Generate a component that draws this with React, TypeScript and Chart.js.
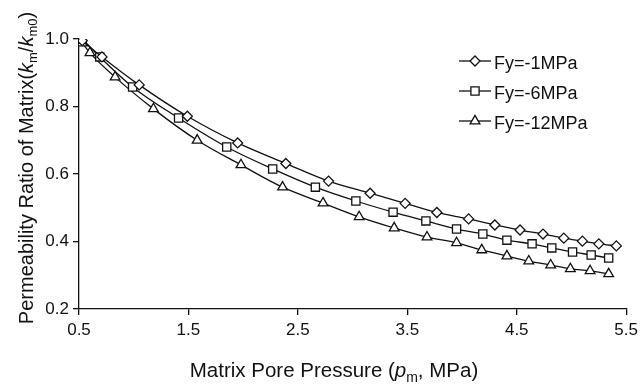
import React, { useEffect, useRef } from "react";
import { Chart, registerables } from "chart.js";

Chart.register(...registerables);

// ---- data ----
const seriesLabels = ["Fy=-1MPa", "Fy=-6MPa", "Fy=-12MPa"];

const diamondX = [0.53, 0.71, 1.05, 1.49, 1.95, 2.39, 2.78, 3.16, 3.48, 3.77, 4.06, 4.3, 4.53, 4.74, 4.93, 5.1, 5.25, 5.41];
const diamondY = [0.995, 0.947, 0.864, 0.771, 0.692, 0.631, 0.579, 0.543, 0.513, 0.486, 0.467, 0.449, 0.434, 0.422, 0.41, 0.401, 0.393, 0.387];

const squareX = [0.53, 0.69, 0.99, 1.41, 1.85, 2.27, 2.66, 3.03, 3.37, 3.67, 3.95, 4.19, 4.41, 4.64, 4.82, 5.01, 5.18, 5.34];
const squareY = [1.0, 0.947, 0.858, 0.766, 0.68, 0.615, 0.561, 0.52, 0.487, 0.461, 0.437, 0.422, 0.404, 0.393, 0.381, 0.369, 0.36, 0.351];

const triX = [0.53, 0.6, 0.83, 1.18, 1.58, 1.98, 2.36, 2.73, 3.06, 3.38, 3.68, 3.95, 4.18, 4.41, 4.61, 4.81, 4.99, 5.17, 5.34];
const triY = [0.988, 0.959, 0.887, 0.793, 0.7, 0.627, 0.561, 0.514, 0.473, 0.44, 0.413, 0.396, 0.375, 0.357, 0.342, 0.33, 0.319, 0.313, 0.304];

const xTicks = [0.5, 1.5, 2.5, 3.5, 4.5, 5.5];
const yTicks = [0.2, 0.4, 0.6, 0.8, 1.0];

const FONT = '"Liberation Sans", Arial, Helvetica, sans-serif';

const zip = (xs: number[], ys: number[]) => xs.map((x, i) => ({ x, y: ys[i] }));

type Seg = { t: string; italic?: boolean; sub?: boolean };

function drawRich(ctx: CanvasRenderingContext2D, segs: Seg[], size: number) {
  const fontFor = (s: Seg) =>
    `${s.italic ? "italic " : ""}${s.sub ? Math.round(size * 0.66) : size}px ${FONT}`;
  let total = 0;
  const widths = segs.map((s) => {
    ctx.font = fontFor(s);
    const w = ctx.measureText(s.t).width;
    total += w;
    return w;
  });
  let x = -total / 2;
  segs.forEach((s, i) => {
    ctx.font = fontFor(s);
    ctx.fillText(s.t, x, s.sub ? size * 0.22 : 0);
    x += widths[i];
  });
}

function drawMarker(ctx: CanvasRenderingContext2D, style: string, x: number, y: number, r: number) {
  ctx.beginPath();
  if (style === "rectRot") {
    ctx.moveTo(x, y - r);
    ctx.lineTo(x + r, y);
    ctx.lineTo(x, y + r);
    ctx.lineTo(x - r, y);
  } else if (style === "rect") {
    const s = r * Math.SQRT1_2;
    ctx.rect(x - s, y - s, 2 * s, 2 * s);
  } else {
    const w = Math.sin(Math.PI / 3) * r;
    ctx.moveTo(x, y - r);
    ctx.lineTo(x + w, y + r / 2);
    ctx.lineTo(x - w, y + r / 2);
  }
  ctx.closePath();
  ctx.fillStyle = "#fff";
  ctx.fill();
  ctx.stroke();
}

const decorPlugin = {
  id: "decor",
  afterDraw(chart: any) {
    const ctx: CanvasRenderingContext2D = chart.ctx;
    ctx.save();
    ctx.fillStyle = "#111";
    ctx.textBaseline = "alphabetic";
    ctx.textAlign = "left";
    // y title
    ctx.save();
    ctx.translate(33, 168);
    ctx.rotate(-Math.PI / 2);
    drawRich(
      ctx,
      [
        { t: "Permeability Ratio of Matrix(" },
        { t: "k", italic: true },
        { t: "m", sub: true },
        { t: "/" },
        { t: "k", italic: true },
        { t: "m0", sub: true },
        { t: ")" },
      ],
      20
    );
    ctx.restore();
    // x title
    ctx.save();
    ctx.translate(334, 377);
    drawRich(
      ctx,
      [
        { t: "Matrix Pore Pressure (" },
        { t: "p", italic: true },
        { t: "m", sub: true },
        { t: ", MPa)" },
      ],
      20.5
    );
    ctx.restore();
    // legend
    const rows = [61, 91, 121];
    chart.data.datasets.forEach((ds: any, i: number) => {
      const y = rows[i];
      ctx.strokeStyle = "#111";
      ctx.lineWidth = 1.3;
      ctx.beginPath();
      ctx.moveTo(459, y);
      ctx.lineTo(491, y);
      ctx.stroke();
      drawMarker(ctx, ds.pointStyle, 475, y, ds.pointRadius);
      ctx.fillStyle = "#111";
      ctx.font = `18px ${FONT}`;
      ctx.fillText(ds.label, 494, y + 7.5);
    });
    ctx.restore();
  },
};

export default function App() {
  const ref = useRef<HTMLCanvasElement>(null);
  useEffect(() => {
    const common = {
      borderColor: "#111",
      borderWidth: 1.3,
      pointBackgroundColor: "#fff",
      pointBorderColor: "#111",
      pointBorderWidth: 1.3,
      cubicInterpolationMode: "monotone" as const,
      fill: false,
    };
    const chart = new Chart(ref.current!, {
      type: "line",
      data: {
        datasets: [
          { ...common, label: seriesLabels[0], data: zip(diamondX, diamondY), pointStyle: "rectRot", pointRadius: 5 },
          { ...common, label: seriesLabels[1], data: zip(squareX, squareY), pointStyle: "rect", pointRadius: 5.8 },
          { ...common, label: seriesLabels[2], data: zip(triX, triY), pointStyle: "triangle", pointRadius: 5.6 },
        ],
      },
      options: {
        responsive: false,
        animation: false,
        devicePixelRatio: 1,
        layout: { padding: { top: 39, right: 15, bottom: 0, left: 0 } },
        plugins: { legend: { display: false }, tooltip: { enabled: false } },
        scales: {
          x: {
            type: "linear",
            min: 0.5,
            max: 5.5,
            afterBuildTicks: (s: any) => {
              s.ticks = xTicks.map((v) => ({ value: v }));
            },
            afterFit: (s: any) => {
              s.height = 75;
            },
            grid: { drawOnChartArea: false, color: "#111", tickLength: 6, lineWidth: 1.3 },
            border: { color: "#111", width: 1.3 },
            ticks: {
              color: "#111",
              font: { family: FONT, size: 17 },
              padding: 5,
              maxRotation: 0,
              callback: (v: any) => Number(v).toFixed(1),
            },
          },
          y: {
            type: "linear",
            min: 0.2,
            max: 1.0,
            afterBuildTicks: (s: any) => {
              s.ticks = yTicks.map((v) => ({ value: v }));
            },
            afterFit: (s: any) => {
              s.width = 79;
            },
            grid: { drawOnChartArea: false, color: "#111", tickLength: 6, lineWidth: 1.3 },
            border: { color: "#111", width: 1.3 },
            ticks: {
              color: "#111",
              font: { family: FONT, size: 17 },
              padding: 4,
              callback: (v: any) => Number(v).toFixed(1),
            },
          },
        },
      },
      plugins: [decorPlugin],
    } as any);
    return () => chart.destroy();
  }, []);
  return (
    <div style={{ position: "fixed", left: 0, top: 0, width: 643, height: 384, background: "#fff" }}>
      <canvas ref={ref} width={643} height={384} style={{ display: "block", width: 643, height: 384 }} />
    </div>
  );
}
